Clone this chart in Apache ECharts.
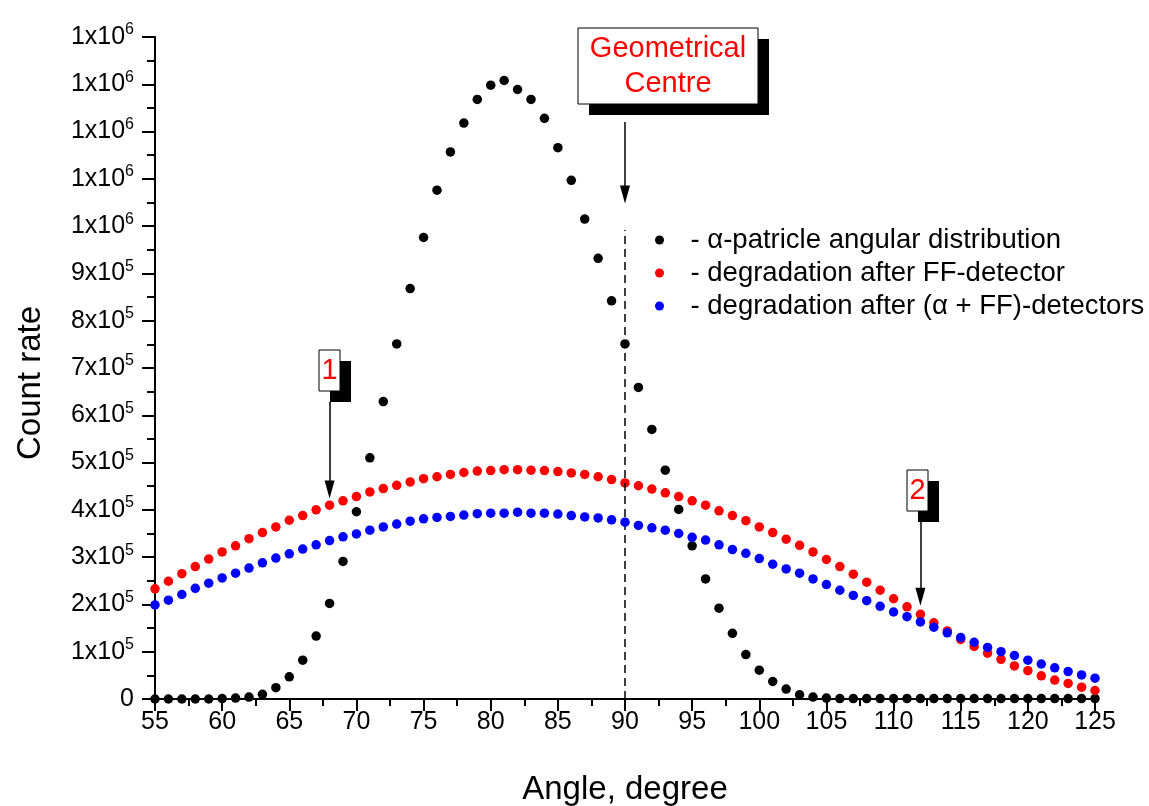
<!DOCTYPE html>
<html>
<head>
<meta charset="utf-8">
<script src="https://cdn.jsdelivr.net/npm/echarts@6/dist/echarts.min.js"></script>
<style>
html,body{margin:0;padding:0;background:#fff;overflow:hidden;}
#chart{width:1149px;height:806px;}
</style>
</head>
<body>
<div id="chart"></div>
<script>
// Angles (degrees)
const angles = [];
for (let a = 55; a <= 125; a++) angles.push(a);

// Values in units of 1e5 counts
const alphaDist = [0,0,0,0,0,0.01,0.02,0.04,0.10,0.24,0.47,0.82,1.33,2.02,2.91,3.96,5.10,6.29,7.51,8.68,9.76,10.76,11.57,12.18,12.68,12.98,13.08,12.89,12.68,12.28,11.66,10.97,10.15,9.32,8.42,7.51,6.59,5.70,4.84,4.01,3.24,2.54,1.92,1.39,0.94,0.61,0.37,0.21,0.09,0.04,0.02,0.01,0.01,0.01,0.01,0.01,0.01,0.01,0.01,0.01,0.01,0.01,0.01,0.01,0.01,0.01,0.01,0.01,0.01,0.01,0.01];
const ffDegr = [2.33,2.49,2.65,2.80,2.96,3.11,3.24,3.39,3.52,3.64,3.78,3.88,4.00,4.10,4.19,4.28,4.38,4.45,4.52,4.59,4.66,4.70,4.75,4.79,4.82,4.83,4.85,4.85,4.84,4.83,4.81,4.78,4.75,4.70,4.64,4.57,4.51,4.44,4.36,4.28,4.19,4.10,3.98,3.88,3.77,3.64,3.52,3.38,3.25,3.11,2.95,2.80,2.64,2.47,2.30,2.12,1.95,1.79,1.61,1.44,1.26,1.11,0.97,0.84,0.70,0.60,0.49,0.40,0.33,0.25,0.18];
const alphaFfDegr = [1.99,2.09,2.21,2.34,2.45,2.56,2.66,2.77,2.88,2.98,3.07,3.17,3.26,3.35,3.43,3.49,3.57,3.64,3.70,3.76,3.81,3.84,3.86,3.89,3.92,3.93,3.93,3.95,3.93,3.93,3.91,3.88,3.85,3.83,3.79,3.74,3.67,3.62,3.57,3.50,3.42,3.36,3.26,3.16,3.08,2.97,2.85,2.75,2.66,2.54,2.42,2.30,2.19,2.08,1.96,1.84,1.74,1.63,1.52,1.40,1.30,1.20,1.09,1.00,0.92,0.82,0.74,0.66,0.58,0.51,0.44];

const seriesNames = ['- \u03b1-patricle angular distribution', '- degradation after FF-detector', '- degradation after (\u03b1 + FF)-detectors'];
const seriesColors = ['#000000', '#ff0000', '#0000ff'];

// Annotations
const centreAngle = 90;
const mark1Angle = 68;
const mark2Angle = 112;

function toPairs(vals) { return angles.map((a, i) => [a, vals[i] * 1e5]); }

const FONT = 'Liberation Sans, Arial, sans-serif';
const chart = echarts.init(document.getElementById('chart'), null, {renderer: 'canvas'});

function arrowLine(x, yFrom, yTo) {
  return [{coord: [x, yFrom]}, {coord: [x, yTo]}];
}

const option = {
  backgroundColor: '#fff',
  animation: false,
  grid: {left: 155, right: 54, top: 37, bottom: 107, containLabel: false, outerBoundsMode: 'none'},
  legend: {
    orient: 'vertical',
    left: 650, top: 221,
    itemWidth: 52, itemHeight: 9, itemGap: 5,
    icon: 'circle',
    symbolKeepAspect: true,
    textStyle: {fontFamily: FONT, fontSize: 27.5, color: '#000'},
    data: seriesNames
  },
  xAxis: {
    type: 'value', min: 55, max: 125, interval: 5,
    name: 'Angle, degree', nameLocation: 'middle', nameGap: 74,
    nameTextStyle: {fontFamily: FONT, fontSize: 33, color: '#000'},
    axisLine: {lineStyle: {color: '#000', width: 2}},
    axisTick: {show: true, inside: false, length: 12, lineStyle: {color: '#000', width: 2}},
    minorTick: {show: true, splitNumber: 2, length: 7, lineStyle: {color: '#000', width: 2}},
    axisLabel: {fontFamily: FONT, fontSize: 25, color: '#000', margin: 11},
    splitLine: {show: false}
  },
  yAxis: {
    type: 'value', min: 0, max: 1400000, interval: 100000,
    name: 'Count rate', nameLocation: 'middle', nameGap: 108,
    nameTextStyle: {fontFamily: FONT, fontSize: 33, color: '#000', padding: [0, 30, 0, 0]},
    axisLine: {show: true, lineStyle: {color: '#000', width: 2}},
    axisTick: {show: true, inside: false, length: 13, lineStyle: {color: '#000', width: 2}},
    minorTick: {show: true, splitNumber: 2, length: 8, lineStyle: {color: '#000', width: 2}},
    axisLabel: {
      fontFamily: FONT, fontSize: 25, color: '#000', margin: 21,
      formatter: function (v) {
        const n = Math.round(v / 1e5);
        if (n === 0) return '0';
        if (n >= 10) return '1x10{sup|6}';
        return n + 'x10{sup|5}';
      },
      rich: {sup: {fontFamily: FONT, fontSize: 16, color: '#000', verticalAlign: 'top', padding: [0, 0, 14, 0]}}
    },
    splitLine: {show: false}
  },
  series: [
    {
      name: seriesNames[0], type: 'scatter', symbol: 'circle', symbolSize: 9.5,
      itemStyle: {color: seriesColors[0], opacity: 1}, data: toPairs(alphaDist), z: 3,
      markLine: {
        silent: true, symbol: ['none', 'triangle'], symbolSize: [10, 18],
        label: {show: false},
        lineStyle: {color: '#000', width: 1.5, type: 'solid'},
        data: [
          arrowLine(centreAngle, 1220000, 1067000),
          arrowLine(mark1Angle, 628000, 443000),
          arrowLine(mark2Angle, 378000, 216000)
        ]
      }
    },
    {
      name: seriesNames[1], type: 'scatter', symbol: 'circle', symbolSize: 9.5,
      itemStyle: {color: seriesColors[1], opacity: 1}, data: toPairs(ffDegr), z: 4,
      markLine: {
        silent: true, symbol: ['none', 'none'],
        label: {show: false},
        lineStyle: {color: '#000', width: 1.5, type: [8, 5]},
        data: [arrowLine(centreAngle, 0, 992000)]
      }
    },
    {
      name: seriesNames[2], type: 'scatter', symbol: 'circle', symbolSize: 9.5,
      itemStyle: {color: seriesColors[2], opacity: 1}, data: toPairs(alphaFfDegr), z: 5
    }
  ]
};
chart.setOption(option);

function box(x, y, w, h, lines, fs) {
  const children = [
    {type: 'rect', shape: {x: x + 11, y: y + 11, width: w, height: h}, style: {fill: '#000'}},
    {type: 'rect', shape: {x: x, y: y, width: w, height: h}, style: {fill: '#fff', stroke: '#000', lineWidth: 1}}
  ];
  lines.forEach((t, i) => {
    children.push({type: 'text', x: x + w / 2, y: y + h / 2 + (i - (lines.length - 1) / 2) * 35,
      style: {text: t, fill: '#ff0000', font: fs + 'px ' + FONT, textAlign: 'center', textVerticalAlign: 'middle'}});
  });
  return {type: 'group', z: 100, children: children};
}

chart.setOption({
  graphic: [
    box(578, 28, 180, 76, ['Geometrical', 'Centre'], 29),
    box(319, 350, 21, 41, ['1'], 29),
    box(907, 470, 21, 41, ['2'], 29)
  ]
});
</script>
</body>
</html>
